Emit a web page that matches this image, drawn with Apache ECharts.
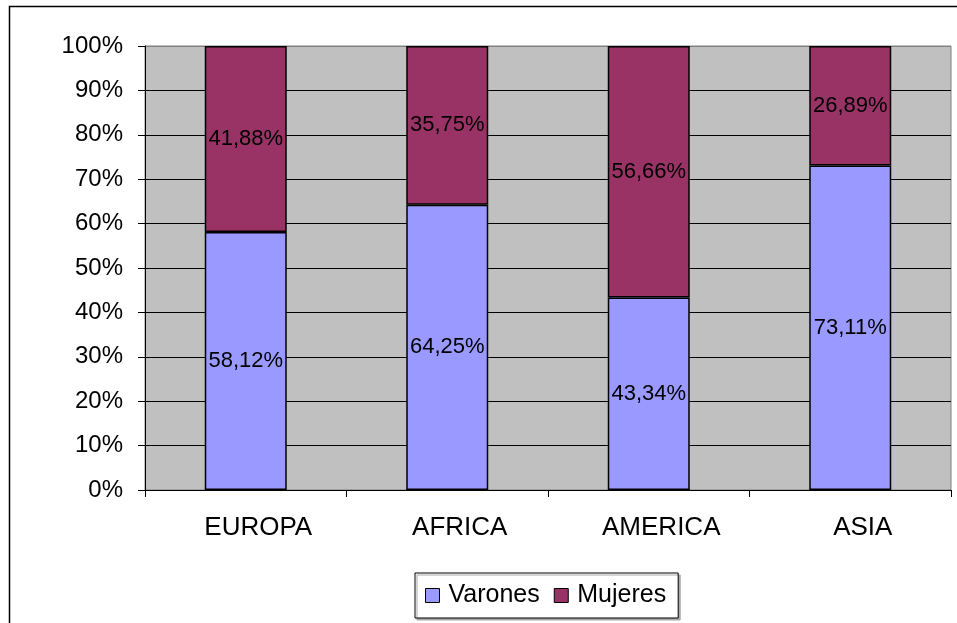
<!DOCTYPE html>
<html>
<head>
<meta charset="utf-8">
<script src="https://cdn.jsdelivr.net/npm/echarts@6/dist/echarts.min.js"></script>
<style>
  html, body { margin: 0; padding: 0; background: #fff; }
</style>
</head>
<body>
<div id="chart" style="width:957px;height:623px"></div>
<script>
// datos por continente
var categories = ['EUROPA', 'AFRICA', 'AMERICA', 'ASIA'];
var varones = [58.12, 64.25, 43.34, 73.11];
var mujeres = [41.88, 35.75, 56.66, 26.89];

var font = 'Liberation Sans, Arial, Helvetica, sans-serif';

// la linea de 100% queda gris como el borde del area
var gridColors = [];
for (var i = 0; i < 10; i++) gridColors.push('#000');
gridColors.push('#808080');

function pct(p) {
  return p.value.toFixed(2).replace('.', ',') + '%';
}

var chart = echarts.init(document.getElementById('chart'), null, { renderer: 'canvas' });

var option = {
  animation: false,
  backgroundColor: '#fff',
  graphic: [{
    type: 'rect',
    left: 7,
    top: 4,
    shape: { width: 1000, height: 700 },
    style: { fill: 'none', stroke: '#000', lineWidth: 1.5 },
    silent: true
  }],
  grid: {
    left: 145,
    top: 46,
    right: 6,
    bottom: 133,
    show: true,
    backgroundColor: '#C0C0C0',
    borderColor: '#808080',
    borderWidth: 1
  },
  legend: {
    left: 415,
    top: 573,
    padding: [10, 12, 10, 10],
    itemWidth: 14,
    itemHeight: 14,
    itemGap: 14,
    icon: 'rect',
    borderColor: '#000',
    borderWidth: 1,
    backgroundColor: '#fff',
    shadowColor: '#aaa',
    shadowOffsetX: 2,
    shadowOffsetY: 2,
    itemStyle: { borderColor: '#000', borderWidth: 1 },
    textStyle: { fontFamily: font, fontSize: 25, color: '#000', padding: [0, 0, 0, 4] },
    data: ['Varones', 'Mujeres']
  },
  xAxis: {
    type: 'category',
    data: categories,
    axisLine: { lineStyle: { color: '#000', width: 1 } },
    axisTick: { show: true, length: 7, lineStyle: { color: '#000' } },
    axisLabel: {
      fontFamily: font,
      fontSize: 26,
      color: '#000',
      margin: 25,
      padding: [0, 0, 0, 25]
    }
  },
  yAxis: {
    type: 'value',
    min: 0,
    max: 100,
    interval: 10,
    axisLine: { show: true, lineStyle: { color: '#000', width: 1 } },
    axisTick: { show: true, length: 7, lineStyle: { color: '#000' } },
    axisLabel: {
      fontFamily: font,
      fontSize: 24,
      color: '#000',
      margin: 22,
      padding: [3, 0, 0, 0],
      formatter: '{value}%'
    },
    splitLine: { show: true, lineStyle: { color: gridColors, width: 1 } }
  },
  series: [{
    name: 'Varones',
    type: 'bar',
    stack: 'total',
    barWidth: 82,
    data: varones,
    itemStyle: { color: '#9999FF', borderColor: '#000', borderWidth: 1.5 },
    label: {
      show: true,
      position: 'inside',
      fontFamily: font,
      fontSize: 22,
      color: '#000',
      formatter: pct
    }
  }, {
    name: 'Mujeres',
    type: 'bar',
    stack: 'total',
    barWidth: 82,
    data: mujeres,
    itemStyle: { color: '#993366', borderColor: '#000', borderWidth: 1.5 },
    label: {
      show: true,
      position: 'inside',
      fontFamily: font,
      fontSize: 22,
      color: '#000',
      formatter: pct
    }
  }]
};

chart.setOption(option);
</script>
</body>
</html>
